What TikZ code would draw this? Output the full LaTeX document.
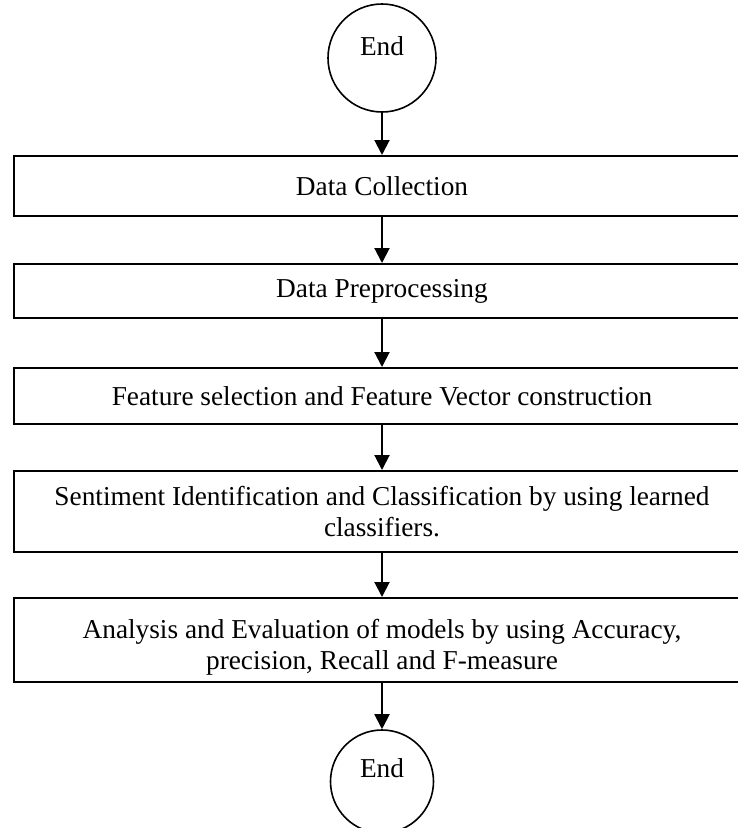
\documentclass[tikz,border=0pt]{standalone}
\usepackage{fontspec}
\setmainfont{Liberation Serif}
\usetikzlibrary{arrows.meta}

\begin{document}
\begin{tikzpicture}[x=1pt,y=-1pt,
  stagebox/.style={draw, line width=2pt, minimum width=736pt, inner sep=0pt,
    align=center, font=\fontsize{27.3}{31.4}\selectfont},
  terminal/.style={draw, circle, line width=1.6pt, inner sep=0pt},
  termtext/.style={inner sep=0pt, font=\fontsize{27.3}{31.4}\selectfont},
  flow/.style={-{Triangle[length=15pt,width=15pt]}, line width=2pt}]
\useasboundingbox (0,0) rectangle (738,828);
\clip (0,0) rectangle (738,828);

% terminals
\node[terminal, minimum size=108pt] (top) at (382,58) {};
\node[termtext] (toptext) at ([yshift=12pt]top.center) {End};

% processing stages
\node[stagebox, minimum height=60pt] (collect) at (382,186) {Data Collection};
\node[stagebox, minimum height=54pt] (prep) at (382,291) {Data Preprocessing};
\node[stagebox, minimum height=56pt] (feat) at (382,396) {Feature selection and Feature Vector construction};
\node[stagebox, minimum height=81pt] (sent) at (382,511.5) {Sentiment Identification and Classification by using learned\\classifiers.};
\node[stagebox, minimum height=84pt] (eval) at (382,640) {\rule{0pt}{34pt}Analysis and Evaluation of models by using Accuracy,\\precision, Recall and F-measure};

\node[terminal, minimum size=103pt] (bottom) at (382,781.5) {};
\node[termtext] (bottomtext) at ([yshift=13pt]bottom.center) {End};

% connectors
\draw[flow] (top.south) -- (collect.north);
\draw[flow] (collect.south) -- (prep.north);
\draw[flow] (prep.south) -- (feat.north);
\draw[flow] (feat.south) -- (sent.north);
\draw[flow] (sent.south) -- (eval.north);
\draw[flow] (eval.south) -- (bottom.north);
\end{tikzpicture}
\end{document}
